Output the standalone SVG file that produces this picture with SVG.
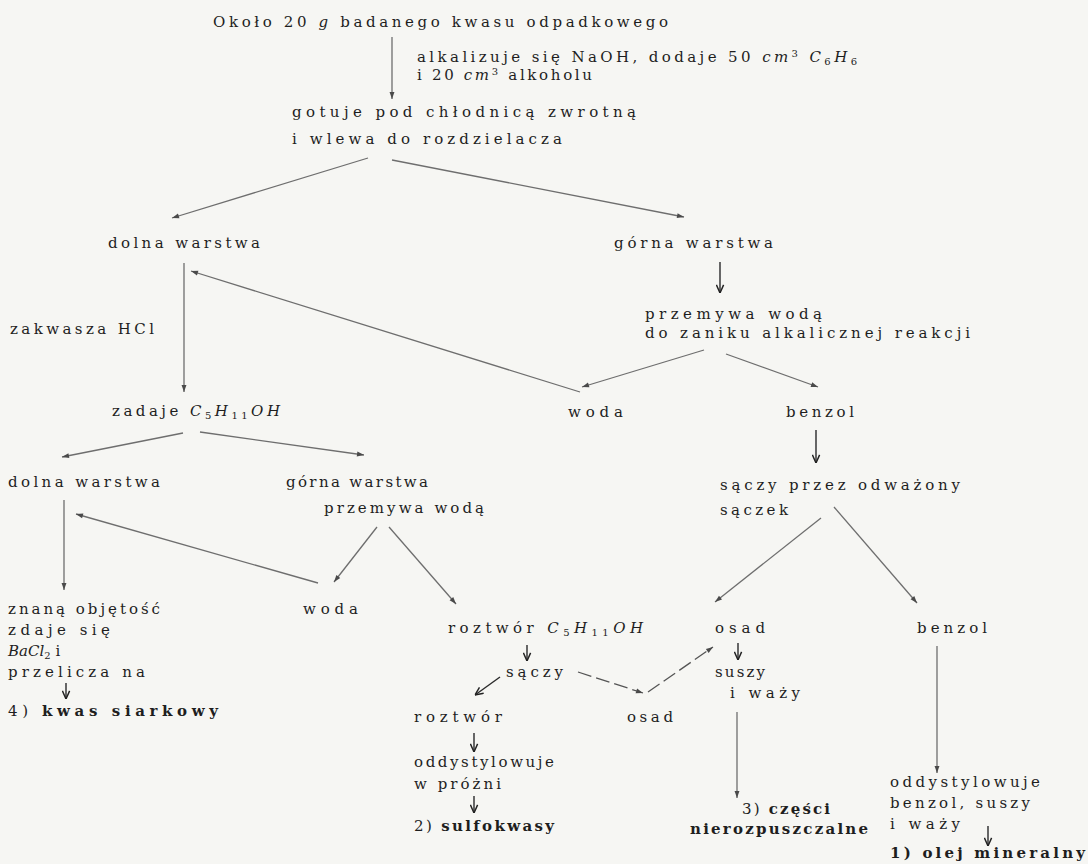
<svg xmlns="http://www.w3.org/2000/svg" width="1088" height="864" viewBox="0 0 1088 864">
<defs>
<style>
text{font-family:"DejaVu Serif","Liberation Serif",serif;font-size:15px;fill:#1e1e1e;}
.i{font-style:italic;}
.b{font-weight:bold;}
.s{font-size:10px;}
.ln{stroke:#6e6e6e;stroke-width:1.3;fill:none;}
.dk{stroke:#2a2a2a;stroke-width:1.4;fill:none;}
.ds{stroke:#555;stroke-width:1.3;fill:none;stroke-dasharray:14 5;}
</style>
<marker id="ah" viewBox="0 0 10 10" refX="10" refY="5" markerWidth="8" markerHeight="7" orient="auto" markerUnits="userSpaceOnUse"><path d="M0,1.5 L10,5 L0,8.5 z" fill="#4a4a4a"/></marker>
<marker id="vh" viewBox="0 0 10 10" refX="10" refY="5" markerWidth="9" markerHeight="9" orient="auto" markerUnits="userSpaceOnUse"><path d="M1,1 L10,5 L1,9" fill="none" stroke="#222" stroke-width="1.6"/></marker>
</defs>
<rect width="1088" height="864" fill="#f6f6f3"/>

<g id="connectors">
<line class="ln" x1="392" y1="37" x2="392" y2="99" marker-end="url(#ah)"/>
<line class="ln" x1="368" y1="158" x2="172" y2="218" marker-end="url(#ah)"/>
<line class="ln" x1="392" y1="160" x2="684" y2="217" marker-end="url(#ah)"/>
<line class="dk" x1="720" y1="262" x2="720" y2="293" marker-end="url(#vh)"/>
<line class="ln" x1="184" y1="263" x2="184" y2="392" marker-end="url(#ah)"/>
<line class="ln" x1="580" y1="392" x2="191" y2="271" marker-end="url(#ah)"/>
<line class="ln" x1="704" y1="350" x2="582" y2="387" marker-end="url(#ah)"/>
<line class="ln" x1="726" y1="354" x2="818" y2="387" marker-end="url(#ah)"/>
<line class="dk" x1="816" y1="430" x2="816" y2="463" marker-end="url(#vh)"/>
<line class="ln" x1="183" y1="433" x2="62" y2="457" marker-end="url(#ah)"/>
<line class="ln" x1="200" y1="432" x2="364" y2="455" marker-end="url(#ah)"/>
<line class="ln" x1="64" y1="500" x2="64" y2="590" marker-end="url(#ah)"/>
<line class="ln" x1="318" y1="583" x2="76" y2="514" marker-end="url(#ah)"/>
<line class="ln" x1="377" y1="527" x2="334" y2="582" marker-end="url(#ah)"/>
<line class="ln" x1="389" y1="527" x2="456" y2="604" marker-end="url(#ah)"/>
<line class="ln" x1="821" y1="518" x2="715" y2="602" marker-end="url(#ah)"/>
<line class="ln" x1="834" y1="507" x2="917" y2="603" marker-end="url(#ah)"/>
<line class="dk" x1="66" y1="683" x2="66" y2="699" marker-end="url(#vh)"/>
<line class="dk" x1="527" y1="645" x2="527" y2="661" marker-end="url(#vh)"/>
<line class="dk" x1="500" y1="677" x2="475" y2="695" marker-end="url(#vh)"/>
<line class="ds" x1="578" y1="672" x2="643" y2="693" marker-end="url(#ah)"/>
<line class="ds" x1="648" y1="692" x2="713" y2="647" marker-end="url(#ah)"/>
<line class="dk" x1="474" y1="733" x2="474" y2="752" marker-end="url(#vh)"/>
<line class="dk" x1="474" y1="796" x2="474" y2="813" marker-end="url(#vh)"/>
<line class="dk" x1="738" y1="643" x2="738" y2="660" marker-end="url(#vh)"/>
<line class="ln" x1="737" y1="712" x2="737" y2="798" marker-end="url(#ah)"/>
<line class="ln" x1="937" y1="646" x2="937" y2="773" marker-end="url(#ah)"/>
<line class="dk" x1="988" y1="826" x2="988" y2="846" marker-end="url(#vh)"/>
</g>

<g id="n-start"><text x="213" y="27" textLength="455" lengthAdjust="spacing">Około 20 <tspan class="i">g</tspan> badanego kwasu odpadkowego</text></g>
<g id="n-alkalizuje">
<text x="417" y="62" textLength="440" lengthAdjust="spacing">alkalizuje się NaOH, dodaje 50 <tspan class="i">cm</tspan><tspan class="s" dy="-5">3</tspan><tspan class="i" dy="5"> C</tspan><tspan class="s" dy="3">6</tspan><tspan class="i" dy="-3">H</tspan><tspan class="s" dy="3">6</tspan></text>
<text x="417" y="80" textLength="175" lengthAdjust="spacing">i 20 <tspan class="i">cm</tspan><tspan class="s" dy="-5">3</tspan><tspan dy="5"> alkoholu</tspan></text>
</g>
<g id="n-gotuje">
<text x="292" y="117" textLength="344" lengthAdjust="spacing">gotuje pod chłodnicą zwrotną</text>
<text x="292" y="144" textLength="270" lengthAdjust="spacing">i wlewa do rozdzielacza</text>
</g>
<g id="n-dolna1"><text x="108" y="248" textLength="152" lengthAdjust="spacing">dolna warstwa</text></g>
<g id="n-gorna1"><text x="614" y="248" textLength="159" lengthAdjust="spacing">górna warstwa</text></g>
<g id="n-przemywa1">
<text x="645" y="319" textLength="177" lengthAdjust="spacing">przemywa wodą</text>
<text x="645" y="338" textLength="325" lengthAdjust="spacing">do zaniku alkalicznej reakcji</text>
</g>
<g id="n-zakwasza"><text x="10" y="334" textLength="144" lengthAdjust="spacing">zakwasza HCl</text></g>
<g id="n-zadaje"><text x="112" y="416" textLength="168" lengthAdjust="spacing">zadaje <tspan class="i">C</tspan><tspan class="s" dy="3">5</tspan><tspan class="i" dy="-3">H</tspan><tspan class="s" dy="3">11</tspan><tspan class="i" dy="-3">OH</tspan></text></g>
<g id="n-woda1"><text x="568" y="417" textLength="55" lengthAdjust="spacing">woda</text></g>
<g id="n-benzol1"><text x="786" y="417" textLength="68" lengthAdjust="spacing">benzol</text></g>
<g id="n-dolna2"><text x="8" y="487" textLength="152" lengthAdjust="spacing">dolna warstwa</text></g>
<g id="n-gorna2">
<text x="286" y="487" textLength="142" lengthAdjust="spacing">górna warstwa</text>
<text x="324" y="513" textLength="160" lengthAdjust="spacing">przemywa wodą</text>
</g>
<g id="n-saczy1">
<text x="720" y="490" textLength="240" lengthAdjust="spacing">sączy przez odważony</text>
<text x="720" y="515" textLength="68" lengthAdjust="spacing">sączek</text>
</g>
<g id="n-znana">
<text x="8" y="614" textLength="152" lengthAdjust="spacing">znaną objętość</text>
<text x="8" y="635" textLength="102" lengthAdjust="spacing">zdaje się</text>
<text x="8" y="656"><tspan class="i">BaCl</tspan><tspan class="s" dy="3">2</tspan><tspan dy="-3"> i</tspan></text>
<text x="8" y="677" textLength="137" lengthAdjust="spacing">przelicza na</text>
</g>
<g id="n-kwas"><text x="8" y="716" textLength="210" lengthAdjust="spacing">4) <tspan class="b">kwas siarkowy</tspan></text></g>
<g id="n-woda2"><text x="303" y="614" textLength="55" lengthAdjust="spacing">woda</text></g>
<g id="n-roztwor1"><text x="448" y="633" textLength="195" lengthAdjust="spacing">roztwór <tspan class="i">C</tspan><tspan class="s" dy="3">5</tspan><tspan class="i" dy="-3">H</tspan><tspan class="s" dy="3">11</tspan><tspan class="i" dy="-3">OH</tspan></text></g>
<g id="n-saczy2"><text x="506" y="677" textLength="57" lengthAdjust="spacing">sączy</text></g>
<g id="n-osad2"><text x="627" y="722" textLength="46" lengthAdjust="spacing">osad</text></g>
<g id="n-roztwor2"><text x="414" y="722" textLength="88" lengthAdjust="spacing">roztwór</text></g>
<g id="n-oddyst1">
<text x="414" y="767" textLength="140" lengthAdjust="spacing">oddystylowuje</text>
<text x="414" y="789" textLength="87" lengthAdjust="spacing">w próżni</text>
</g>
<g id="n-sulfo"><text x="414" y="831" textLength="140" lengthAdjust="spacing">2) <tspan class="b">sulfokwasy</tspan></text></g>
<g id="n-osad1"><text x="715" y="633" textLength="50" lengthAdjust="spacing">osad</text></g>
<g id="n-suszy">
<text x="715" y="677" textLength="50" lengthAdjust="spacing">suszy</text>
<text x="730" y="698" textLength="70" lengthAdjust="spacing">i waży</text>
</g>
<g id="n-czesci">
<text x="742" y="814" textLength="88" lengthAdjust="spacing">3) <tspan class="b">części</tspan></text>
<text class="b" x="690" y="834" textLength="178" lengthAdjust="spacing">nierozpuszczalne</text>
</g>
<g id="n-benzol2"><text x="917" y="633" textLength="70" lengthAdjust="spacing">benzol</text></g>
<g id="n-oddyst2">
<text x="890" y="787" textLength="150" lengthAdjust="spacing">oddystylowuje</text>
<text x="890" y="808" textLength="140" lengthAdjust="spacing">benzol, suszy</text>
<text x="890" y="829" textLength="70" lengthAdjust="spacing">i waży</text>
</g>
<g id="n-olej"><text class="b" x="890" y="858" textLength="195" lengthAdjust="spacing">1) olej mineralny</text></g>
</svg>
